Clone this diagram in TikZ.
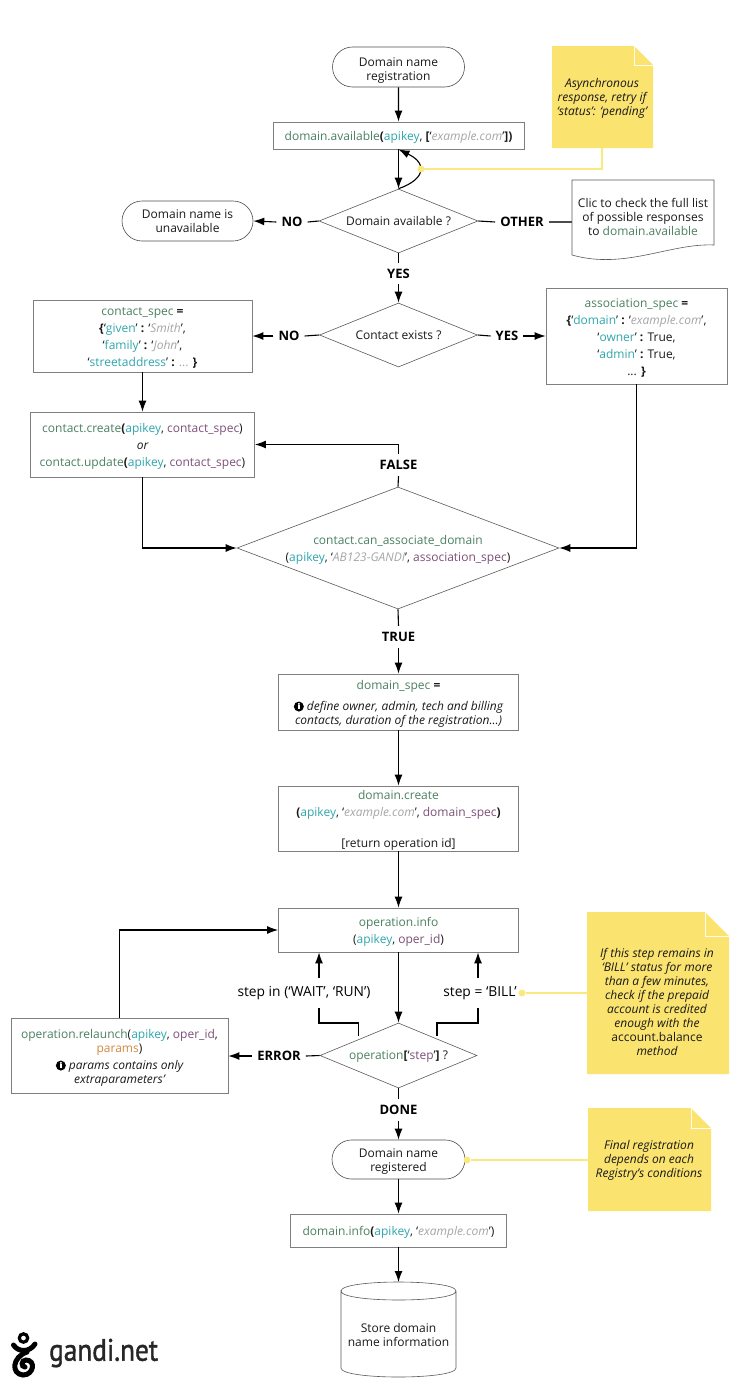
\documentclass[tikz,border=0pt]{standalone}
\usepackage{fontspec}
\setmainfont{Open Sans}
\newfontfamily\logofont[FakeBold=1.5]{PT Sans}
\usetikzlibrary{shapes.geometric,shapes.misc,arrows.meta,calc}
\definecolor{cgreen}{HTML}{4A8060}
\definecolor{cteal}{HTML}{2FA5AC}
\definecolor{cpurple}{HTML}{7C4F78}
\definecolor{cgrey}{HTML}{A5A5A5}
\definecolor{corange}{HTML}{D0893F}
\definecolor{cnote}{HTML}{FAE36F}
\definecolor{cnoteline}{HTML}{FAE97F}
\definecolor{cborder}{HTML}{7F7F7F}
\newcommand{\fg}[1]{\textcolor{cgreen}{#1}}
\newcommand{\ft}[1]{\textcolor{cteal}{#1}}
\newcommand{\fp}[1]{\textcolor{cpurple}{#1}}
\newcommand{\fs}[1]{\textcolor{cgrey}{\itshape #1}}
\newcommand{\fo}[1]{\textcolor{corange}{#1}}
\newcommand{\bb}[1]{\textbf{#1}}
\newcommand{\rh}[1]{\rule{0pt}{#1pt}}
\newcommand{\infoicon}{\tikz[x=1pt,y=1pt,baseline=0pt]{\fill[black] (5,4) circle[radius=5]; \fill[white] (4.1,1.3) rectangle (5.9,5.1); \fill[white] (5,6.7) circle[radius=1.05];}\kern0.25em}
\tikzset{
  base/.style={font=\fontsize{12}{14}\selectfont,align=center,text=black!90},
  code/.style={font=\fontsize{12}{17}\selectfont},
  boxnode/.style={base,draw=cborder,line width=0.8pt,inner sep=0pt,rectangle},
  termnode/.style={base,draw=black!70,line width=0.6pt,inner sep=0pt,rounded rectangle},
  dia/.style={base,draw=black!65,line width=0.6pt,inner sep=0pt,diamond,aspect=2.4},
  lab/.style={font=\fontsize{13}{14}\selectfont\bfseries,inner sep=0pt,minimum height=22pt,text=black},
  plainlab/.style={font=\fontsize{13.8}{14}\selectfont,inner sep=0pt,minimum height=30pt,text=black},
  notetext/.style={font=\fontsize{12}{14}\selectfont\itshape,align=center,inner sep=0pt,text=black!90},
  flow/.style={-{Latex[length=11pt,width=8pt]},line width=1.1pt,black},
  plain/.style={line width=1.1pt,black},
  noteline/.style={line width=2.5pt,cnoteline},
  notedot/.style={circle,fill=cnoteline,inner sep=0pt,minimum size=7pt},
}
\newcommand{\notepath}[5]{% xleft ytop xright ybottom fold
  \fill[cnote] (#1,#2) -- ({#3-#5},#2) -- (#3,{#2+#5}) -- (#3,#4) -- (#1,#4) -- cycle;
  \draw[white,line width=0.7pt,opacity=.9] ({#3-#5},#2) -- ({#3-#5},{#2+#5}) -- (#3,{#2+#5});
}
\begin{document}
\begin{tikzpicture}[x=1pt,y=-1pt]
\useasboundingbox (0,0) rectangle (740,1400);
% notes
\notepath{552}{46}{653}{148}{19}
\notepath{587}{912}{729}{1074}{24}
\notepath{588}{1108}{711}{1211}{20}
\node[notetext] (n1) at (602,98) {Asynchronous\\response, retry if\\‘status’: ‘pending’};
\node[notetext] (n2) at (657,1002) {If this step remains in\\‘BILL’ status for more\\than a few minutes,\\check if the prepaid\\account is credited\\enough with the\\\upshape account.balance\\\itshape method};
\node[notetext] (n3) at (649,1160) {Final registration\\depends on each\\Registry’s conditions};
% nodes
\node[termnode,minimum width=132pt,minimum height=40pt] (start) at (398.5,67) {\rh{15}Domain name\\registration};
\node[boxnode,minimum width=251pt,minimum height=27pt] (avail) at (398.5,135.5) {\rh{13}\fg{domain.available}\bb{(}\ft{apikey}, \bb{[}‘\fs{example.com}’\bb{])}};
\node[dia,minimum width=159pt,minimum height=64pt] (d1) at (398.5,221) {Domain available ?};
\node[termnode,minimum width=131pt,minimum height=40pt] (unav) at (187.5,221) {Domain name is\\unavailable};
\node[base,inner sep=0pt,minimum width=142pt,minimum height=78pt] (doc) at (643,217) {Clic to check the full list\\of possible responses\\to \fg{domain.available}};
\draw[black!65,line width=0.6pt] (572,180) -- (714,180) -- (714,245) .. controls (670,243) and (625,270) .. (572,255) -- cycle;
\node[dia,minimum width=158pt,minimum height=64pt] (d2) at (398.5,335) {Contact exists ?};
\node[boxnode,code,minimum width=219pt,minimum height=72pt] (cspec) at (142.5,336) {\rh{11}\fg{contact\_spec} \bb{=}\\\bb{\{}‘\ft{given}’ \bb{:} ‘\fs{Smith}’,\\‘\ft{family}’ \bb{:} ‘\fs{John}’,\\‘\ft{streetaddress}’ \bb{:} \textcolor{cgrey}{...} \bb{\}}};
\node[boxnode,code,minimum width=181pt,minimum height=96pt] (aspec) at (636.5,336) {\rh{13}\fg{association\_spec} \bb{=}\\\bb{\{}‘\ft{domain}’ \bb{:} ‘\fs{example.com}’,\\‘\ft{owner}’ \bb{:} True,\\‘\ft{admin}’ \bb{:} True,\\... \bb{\}}};
\node[boxnode,code,minimum width=224pt,minimum height=65pt] (create) at (142.5,444.5) {\rh{13}\fg{contact.create}\bb{(}\ft{apikey}, \fp{contact\_spec})\\\itshape or\\\upshape\fg{contact.update}\bb{(}\ft{apikey}, \fp{contact\_spec})};
\node[dia,code,inner sep=-4pt,aspect=2.65,minimum width=322pt,minimum height=122pt] (d3) at (398,548) {\rh{13}\fg{contact.can\_associate\_domain}\\(\ft{apikey}, ‘\fs{AB123-GANDI}’, \fp{association\_spec})};
\node[boxnode,minimum width=240pt,minimum height=56pt] (dspec) at (398.5,702) {\rh{13}\fg{domain\_spec} \bb{=}\\[7pt]\infoicon\itshape define owner, admin, tech and billing\\\itshape contacts, duration of the registration...)};
\node[boxnode,code,minimum width=240pt,minimum height=65pt] (dcreate) at (398.5,818.5) {\rh{13}\fg{domain.create}\\\bb{(}\ft{apikey}, ‘\fs{example.com}’, \fp{domain\_spec}\bb{)}\\[14pt][return operation id]};
\node[boxnode,code,minimum width=240pt,minimum height=44pt] (opinfo) at (398.5,930) {\rh{13}\fg{operation.info}\\(\ft{apikey}, \fp{oper\_id})};
\node[dia,minimum width=157pt,minimum height=65pt] (d4) at (398.5,1055.5) {\rh{11}\fg{operation}\bb{[}‘\fp{step}’\bb{]} ?};
\node[boxnode,minimum width=217pt,minimum height=75pt] (relaunch) at (119.5,1055.5) {\rh{14}\fg{operation.relaunch}(\ft{apikey}, \fp{oper\_id},\\\fo{params})\\[3pt]\infoicon\itshape params contains only\\\itshape extraparameters’};
\node[termnode,minimum width=133pt,minimum height=39pt] (reg) at (398.5,1159.5) {\rh{13}Domain name\\registered};
\node[boxnode,minimum width=216pt,minimum height=33pt] (dinfo) at (398.5,1230.5) {\rh{13}\fg{domain.info}\bb{(}\ft{apikey}, ‘\fs{example.com}’)};
\node[base,inner sep=0pt,minimum width=115pt,minimum height=95pt] (store) at (398.5,1334.5) {Store domain\\name information};
\draw[black!65,line width=0.6pt] (341,1291) .. controls (341,1279) and (456,1279) .. (456,1291) .. controls (456,1303) and (341,1303) .. (341,1291) -- (341,1368) .. controls (341,1380) and (456,1380) .. (456,1368) -- (456,1291);
% labels
\node[lab] (lno1) at (292,222) {NO};
\node[lab] (lother) at (522,222) {OTHER};
\node[lab,minimum height=20pt] (lyes1) at (398.5,273.5) {YES};
\node[lab] (lno2) at (289,336) {NO};
\node[lab] (lyes2) at (507,336) {YES};
\node[lab] (lfalse) at (398.5,465) {FALSE};
\node[lab] (ltrue) at (398.5,637) {TRUE};
\node[plainlab] (lwait) at (304,993) {step in (‘WAIT’, ‘RUN’)};
\node[plainlab] (lbill) at (480,993) {step = ‘BILL’};
\node[lab] (lerror) at (279,1056) {ERROR};
\node[lab] (ldone) at (398.5,1110) {DONE};
% connectors
\draw[flow] (start) -- (avail);
\draw[flow] (avail) -- (d1);
\coordinate (bulge) at (421,169);
\draw[flow] (d1.north) .. controls (412,184) and (421,177) .. (bulge) .. controls (421,160) and (410,155) .. (avail.south);
\draw[noteline] (602,148) -- (602,169) -- (bulge);
\node[notedot] (dot1) at (bulge) {};
\draw[plain] (d1.west) -- ([xshift=5pt]lno1.east);
\draw[flow] ([xshift=-5pt]lno1.west) -- (unav.east);
\draw[plain] (d1.east) -- ([xshift=-5pt]lother.west);
\draw[plain,line width=1.2pt,black!70] ([xshift=5pt]lother.east) -- (doc.west |- lother.east);
\draw[plain] (d1.south) -- (lyes1.north);
\draw[flow] (lyes1.south) -- (d2.north);
\draw[plain] (d2.west) -- ([xshift=5pt]lno2.east);
\draw[flow] ([xshift=-5pt]lno2.west) -- (cspec.east |- lno2.west);
\draw[plain] (d2.east) -- ([xshift=-5pt]lyes2.west);
\draw[flow] ([xshift=5pt]lyes2.east) -- (aspec.west |- lyes2.east);
\draw[flow] (cspec.south) -- (create.north);
\draw[flow] (create.south) |- (d3.west);
\draw[flow] (aspec.south) |- (d3.east);
\draw[plain] (d3.north) -- (lfalse.south);
\draw[flow] (lfalse.north) |- (create.east);
\draw[plain] (d3.south) -- (ltrue.north);
\draw[flow] (ltrue.south) -- (dspec.north);
\draw[flow] (dspec) -- (dcreate);
\draw[flow] (dcreate) -- (opinfo);
\draw[flow] (opinfo) -- (d4);
\coordinate (wl) at (319,1023);
\coordinate (wm) at (358.5,1036);
\coordinate (bm) at (437,1036);
\coordinate (br) at (478,1023);
\draw[plain] (wm) |- (wl) -- (wl |- lwait.south);
\draw[flow] (wl |- lwait.north) -- (wl |- opinfo.south);
\draw[plain] (bm) |- (br) -- (br |- lbill.south);
\draw[flow] (br |- lbill.north) -- (br |- opinfo.south);
\draw[plain] (d4.west) -- ([xshift=5pt]lerror.east);
\draw[flow] ([xshift=-5pt]lerror.west) -- (relaunch.east |- lerror.west);
\draw[flow] (relaunch.north) |- (opinfo.west);
\draw[plain] (d4.south) -- (ldone.north);
\draw[flow] (ldone.south) -- (reg.north);
\draw[flow] (reg.south) -- (dinfo.north);
\coordinate (stop) at (398.5,1282);
\draw[flow] (dinfo.south) -- (stop);
% note links
\coordinate (nb) at (588,993);
\node[notedot] (dot2) at (522,993) {};
\draw[noteline] (dot2) -- (nb);
\coordinate (nr) at (588,1160);
\node[notedot] (dot3) at (467,1160) {};
\draw[noteline] (dot3) -- (nr);
% logo
\draw[line width=5pt,line cap=round,black] (13.5,1345) .. controls (18,1352) and (29,1353) .. (35,1344);
\draw[line width=5pt,line cap=round,black] (27,1352) .. controls (12,1357) and (11,1374) .. (23,1375) .. controls (34,1375) and (36,1360) .. (26,1360) .. controls (21,1360) and (21,1367) .. (25,1367);
\draw[line width=3.2pt,black] (23.5,1338) circle (4.2pt);
\node[font=\logofont\fontsize{31}{31}\selectfont,inner sep=0pt,anchor=west,xscale=0.88,text=black!85] (logo) at (49,1353) {gandi.net};
\end{tikzpicture}
\end{document}
